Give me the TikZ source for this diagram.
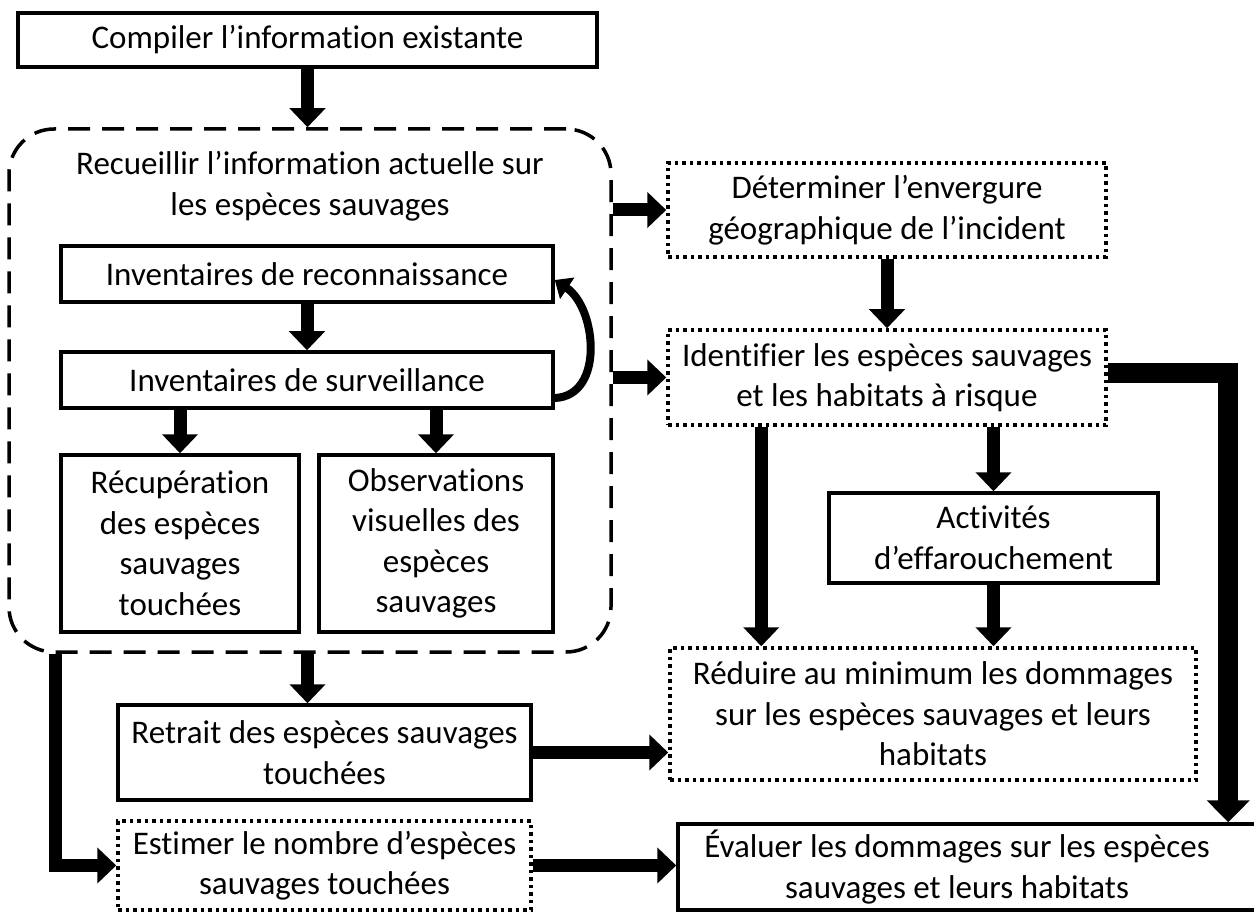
\documentclass[tikz,border=0pt]{standalone}
\usepackage{fontspec}
\setmainfont{Carlito}[Ligatures=NoCommon]
\usetikzlibrary{arrows.meta,calc}
\begin{document}
\begin{tikzpicture}[x=1pt,y=-1pt,
  txt/.style={font=\fontsize{33}{40.5}\selectfont, align=center},
  box/.style={txt, draw, line width=3.5pt, inner sep=0pt},
  dotbox/.style={box, dash pattern=on 3.5pt off 4pt},
  contbox/.style={draw, line width=3.5pt, dash pattern=on 22pt off 12pt, rounded corners=45pt, inner sep=0pt},
  arr/.style={line width=13pt, -{Triangle[length=19pt,width=35pt]}},
  bigarr/.style={line width=20pt, -{Triangle[length=22pt,width=42pt]}},
  curvarr/.style={line width=8pt, -{Triangle[length=15pt,width=25pt]}}
]
\useasboundingbox (0,0) rectangle (1254,912);

\node[box, minimum width=579pt, minimum height=54pt] (compile) at (307.5,40) {Compiler l’information existante};
\node[contbox, minimum width=602pt, minimum height=523pt] (cont) at (310,390.5) {};
\node[txt] (title) at (310,186) {Recueillir l’information actuelle sur\\les espèces sauvages};
\node[box, minimum width=492pt, minimum height=56pt] (recon) at (307,274) {Inventaires de reconnaissance};
\node[box, minimum width=492pt, minimum height=56pt] (surv) at (307,380) {Inventaires de surveillance};
\node[box, minimum width=238pt, minimum height=177pt] (recup) at (180,543.5) {Récupération\\des espèces\\sauvages\\touchées};
\node[box, minimum width=234pt, minimum height=177pt] (obs) at (436,543.5) {Observations\\visuelles des\\espèces\\sauvages};
\node[box, minimum width=413pt, minimum height=95pt] (retrait) at (324.5,752.5) {Retrait des espèces sauvages\\touchées};
\node[dotbox, minimum width=413pt, minimum height=89pt] (estimer) at (324.5,865.5) {Estimer le nombre d’espèces\\sauvages touchées};

\node[dotbox, minimum width=438pt, minimum height=94pt] (determ) at (887,210) {Déterminer l’envergure\\géographique de l’incident};
\node[dotbox, minimum width=438pt, minimum height=95pt] (ident) at (887,377.5) {Identifier les espèces sauvages\\et les habitats à risque};
\node[box, minimum width=329pt, minimum height=90pt] (activ) at (993.5,538) {Activités\\d’effarouchement};
\node[dotbox, minimum width=526pt, minimum height=132pt] (reduire) at (933,714) {Réduire au minimum les dommages\\sur les espèces sauvages et leurs\\habitats};
\node[box, minimum width=582pt, minimum height=86pt] (evaluer) at (969,867) {\hspace*{-24pt}Évaluer les dommages sur les espèces\\\hspace*{-24pt}sauvages et leurs habitats};

% connectors
\draw[arr] (compile.south) -- (compile.south |- cont.north);
\draw[arr] (recon.south) -- (surv.north);
\draw[arr] (recup.north |- surv.south) -- (recup.north);
\draw[arr] (obs.north |- surv.south) -- (obs.north);
\draw[curvarr] ([yshift=-18pt]surv.east) .. controls +(50,-2) and +(42,28) .. ([yshift=-6pt]recon.east);
\draw[arr] (cont.east |- determ.west) -- (determ.west);
\draw[arr] (cont.east |- ident.west) -- (ident.west);
\draw[arr] (determ.south) -- (ident.north);
\coordinate (identL) at ($(ident.south west)+(95,0)$);
\draw[arr] (identL) -- (identL |- reduire.north);
\draw[arr] (activ.north |- ident.south) -- (activ.north);
\draw[arr] (activ.south) -- (activ.south |- reduire.north);
\draw[arr] (compile.south |- cont.south) -- (compile.south |- retrait.north);
\draw[arr] (retrait.east) -- (retrait.east -| reduire.west);
\draw[arr] (estimer.east) -- (estimer.east -| evaluer.west);
\coordinate (contL) at ($(cont.south west)+(48,0)$);
\draw[arr] (contL) |- (estimer.west);
\coordinate (evalR) at ($(evaluer.north west)+(552,0)$);
\draw[bigarr] ([yshift=5pt]ident.east) -| (evalR);
\end{tikzpicture}
\end{document}
